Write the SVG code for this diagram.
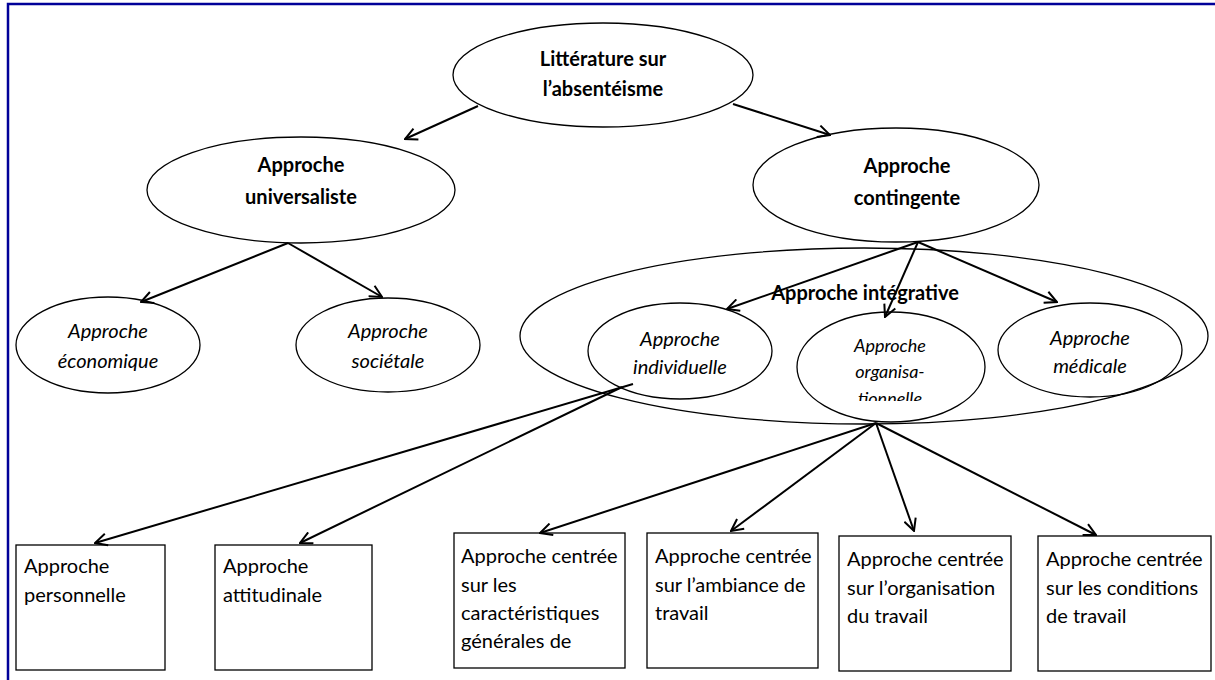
<svg xmlns="http://www.w3.org/2000/svg" width="1215" height="680" viewBox="0 0 1215 680">
<defs>
<style>
.n{fill:#fff;stroke:#000;stroke-width:1.3}
.o{fill:none;stroke:#000;stroke-width:1.3}
.t{font-family:Lato,"Liberation Sans",sans-serif;font-size:20px;fill:#000}
.b{font-weight:bold;text-anchor:middle}
.i{font-style:italic;text-anchor:middle}
.c{fill:none;stroke:#000;stroke-width:2;marker-end:url(#ah)}
.frame{fill:none;stroke:#000099;stroke-width:2.5}
</style>
<marker id="ah" markerWidth="14" markerHeight="14" refX="13" refY="7" orient="auto" markerUnits="userSpaceOnUse">
<path d="M1,1 L13,7 L1,13" fill="none" stroke="#000" stroke-width="2"/>
</marker>
<clipPath id="orgclip"><rect x="790" y="300" width="200" height="101"/></clipPath>
</defs>
<rect width="1215" height="680" fill="#fff"/>
<path class="frame" d="M8,680 L8,4 L1215,4"/>

<g id="n-integrative">
<ellipse class="o" cx="864" cy="336" rx="344" ry="88"/>
<text class="t b" x="865" y="300">Approche intégrative</text>
</g>

<g id="n-litterature">
<ellipse class="n" cx="603" cy="75" rx="150" ry="52"/>
<text class="t b" x="603" y="66">Littérature sur</text>
<text class="t b" x="603" y="96">l’absentéisme</text>
</g>
<g id="n-universaliste">
<ellipse class="n" cx="301" cy="190" rx="154" ry="53"/>
<text class="t b" x="301" y="172">Approche</text>
<text class="t b" x="301" y="204">universaliste</text>
</g>
<g id="n-contingente">
<ellipse class="n" cx="896" cy="185" rx="143" ry="57"/>
<text class="t b" x="907" y="173">Approche</text>
<text class="t b" x="907" y="205">contingente</text>
</g>
<g id="n-economique">
<ellipse class="n" cx="108" cy="345" rx="92" ry="48"/>
<text class="t i" x="108" y="338">Approche</text>
<text class="t i" x="108" y="368">économique</text>
</g>
<g id="n-societale">
<ellipse class="n" cx="388" cy="345" rx="92" ry="47"/>
<text class="t i" x="388" y="338">Approche</text>
<text class="t i" x="388" y="368">sociétale</text>
</g>
<g id="n-individuelle">
<ellipse class="o" cx="680" cy="351" rx="92" ry="48"/>
<text class="t i" x="680" y="346">Approche</text>
<text class="t i" x="680" y="374">individuelle</text>
</g>
<g id="n-organisationnelle">
<ellipse class="o" cx="891" cy="367" rx="94" ry="55"/>
<g clip-path="url(#orgclip)">
<text class="t i" x="890" y="352" style="font-size:18px">Approche</text>
<text class="t i" x="890" y="378" style="font-size:18px">organisa-</text>
<text class="t i" x="890" y="405" style="font-size:18px">tionnelle</text>
</g>
</g>
<g id="n-medicale">
<ellipse class="o" cx="1090" cy="350" rx="92" ry="47"/>
<text class="t i" x="1090" y="345">Approche</text>
<text class="t i" x="1090" y="373">médicale</text>
</g>

<g id="n-personnelle">
<rect class="n" x="16" y="545" width="149" height="125"/>
<text class="t" x="24" y="573">Approche</text>
<text class="t" x="24" y="602">personnelle</text>
</g>
<g id="n-attitudinale">
<rect class="n" x="215" y="545" width="157" height="125"/>
<text class="t" x="223" y="573">Approche</text>
<text class="t" x="223" y="602">attitudinale</text>
</g>
<g id="n-caracteristiques">
<rect class="n" x="454" y="533" width="171" height="135"/>
<text class="t" x="461" y="563">Approche centrée</text>
<text class="t" x="461" y="592">sur les</text>
<text class="t" x="461" y="620">caractéristiques</text>
<text class="t" x="461" y="648">générales de</text>
</g>
<g id="n-ambiance">
<rect class="n" x="647" y="533" width="171" height="135"/>
<text class="t" x="655" y="563">Approche centrée</text>
<text class="t" x="655" y="592">sur l’ambiance de</text>
<text class="t" x="655" y="620">travail</text>
</g>
<g id="n-organisation">
<rect class="n" x="839" y="536" width="172" height="135"/>
<text class="t" x="847" y="566">Approche centrée</text>
<text class="t" x="847" y="595">sur l’organisation</text>
<text class="t" x="847" y="623">du travail</text>
</g>
<g id="n-conditions">
<rect class="n" x="1038" y="536" width="173" height="135"/>
<text class="t" x="1046" y="566">Approche centrée</text>
<text class="t" x="1046" y="595">sur les conditions</text>
<text class="t" x="1046" y="623">de travail</text>
</g>

<g id="connectors">
<line class="c" x1="478" y1="106" x2="405" y2="139"/>
<line class="c" x1="733" y1="104" x2="830" y2="135"/>
<line class="c" x1="288" y1="243" x2="141" y2="302"/>
<line class="c" x1="288" y1="243" x2="382" y2="297"/>
<line class="c" x1="918" y1="242" x2="727" y2="309"/>
<line class="c" x1="918" y1="242" x2="885" y2="317"/>
<line class="c" x1="918" y1="242" x2="1057" y2="302"/>
<line class="c" x1="633" y1="384" x2="95" y2="543"/>
<line class="c" x1="622" y1="387" x2="300" y2="543"/>
<line class="c" x1="876" y1="423" x2="540" y2="533"/>
<line class="c" x1="876" y1="423" x2="731" y2="531"/>
<line class="c" x1="876" y1="423" x2="914" y2="531"/>
<line class="c" x1="876" y1="423" x2="1096" y2="535"/>
</g>
</svg>
